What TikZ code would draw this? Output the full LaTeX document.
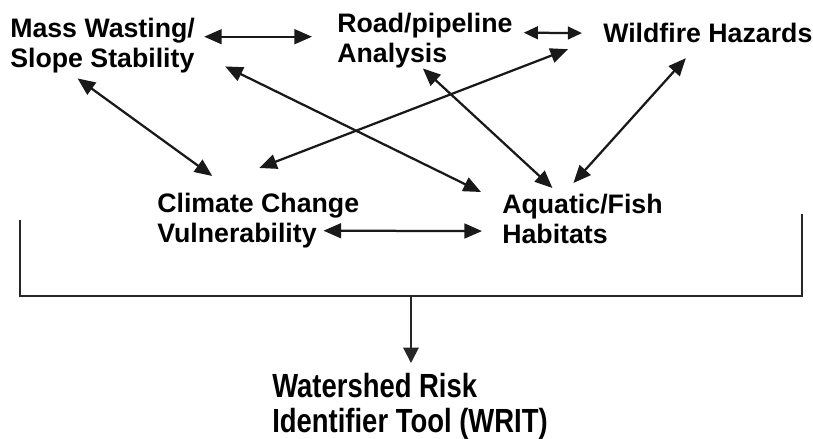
\documentclass[tikz,border=0pt]{standalone}
\usepackage{fontspec}
\setmainfont{Liberation Sans}
\newfontfamily\writfont[FakeStretch=0.82]{Liberation Sans}
\usetikzlibrary{arrows.meta}

\begin{document}
\begin{tikzpicture}[
    x=0.025cm, y=-0.025cm,
    topic/.style={inner sep=0pt, anchor=north west, align=left,
                  font=\fontsize{19}{21.3}\selectfont\bfseries},
    link/.style={{Triangle[length=12.5pt,width=10.5pt]}-{Triangle[length=12.5pt,width=10.5pt]},
                 line width=1.6pt, draw=black!90},
    short/.style={{Triangle[length=10pt,width=9pt]}-{Triangle[length=10pt,width=9pt]}},
    bracket/.style={line width=1.4pt, draw=black!85},
  ]
  \useasboundingbox (0,0) rectangle (813,439);

  \node[topic] (mass) at (10,18) {Mass Wasting/\\Slope Stability};
  \node[topic] (road) at (337,13) {Road/pipeline\\Analysis};
  \node[topic] (wild) at (603,23) {Wildfire Hazards};
  \node[topic] (clim) at (157,193) {Climate Change\\Vulnerability};
  \node[topic] (aqua) at (502,194) {Aquatic/Fish\\Habitats};
  \node[topic, font=\writfont\fontsize{23.8}{24.9}\selectfont\bfseries] (writ) at (272,373)
    {Watershed Risk\\Identifier Tool (WRIT)};

  \draw[link] ([shift={(9,-9)}]mass.east) -- ([shift={(-25,-4)}]road.west);
  \draw[link, short] ([shift={(11,-8)}]road.east) -- ([shift={(-21,0)}]wild.west);
  \draw[link] ([shift={(-25,5)}]mass.south) -- ([shift={(-46,-17)}]clim.north);
  \draw[link] ([shift={(30,-7)}]mass.south east) -- ([shift={(-21,-2)}]aqua.north west);
  \draw[link] ([shift={(1,-25)}]clim.north) -- ([shift={(-35,6)}]wild.south west);
  \draw[link] ([shift={(-2,0)}]road.south) -- ([shift={(-30,-6)}]aqua.north);
  \draw[link] ([shift={(-22,15)}]wild.south) -- ([shift={(-9,-11)}]aqua.north);
  \draw[link] ([shift={(-36,10)}]clim.east) -- ([shift={(-20,12)}]aqua.west);

  % all five feed the tool
  \coordinate (bl) at (20,220);
  \coordinate (br) at (802,214);
  \coordinate (join) at (411,296);
  \draw[bracket] (bl) |- (join) -| (br);
  \draw[bracket, -{Triangle[length=11pt,width=11pt]}] (join) -- ([shift={(1,-10)}]writ.north);
\end{tikzpicture}
\end{document}
